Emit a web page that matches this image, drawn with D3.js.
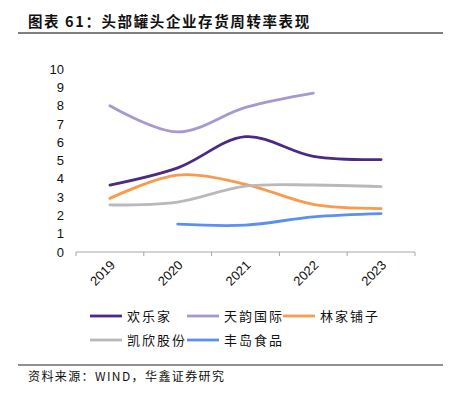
<!DOCTYPE html>
<html>
<head>
<meta charset="utf-8">
<script src="https://cdn.jsdelivr.net/npm/d3@7"></script>
<style>
  body { margin: 0; background: #fff; }
  svg { display: block; }
</style>
</head>
<body>
<svg id="chart" width="459" height="396"></svg>
<script>
// data
const years = ['2019', '2020', '2021', '2022', '2023'];
const yTicks = [0, 1, 2, 3, 4, 5, 6, 7, 8, 9, 10];
const huanlejia = [3.66, 4.6, 6.3, 5.23, 5.05];
const tianyun = [7.99, 6.56, 7.9, 8.68, null];
const linjia = [2.93, 4.2, 3.7, 2.6, 2.37];
const kaixin = [2.57, 2.73, 3.6, 3.66, 3.57];
const fengdao = [null, 1.52, 1.47, 1.92, 2.1];
const seriesNames = ['欢乐家', '天韵国际', '林家铺子', '凯欣股份', '丰岛食品'];
const colorCodes = ['#4a2a85', '#a898d0', '#f99a4c', '#b9b9b9', '#5b8ff5'];

const series = [huanlejia, tianyun, linjia, kaixin, fengdao];

const svg = d3.select('#chart');
const font = '"Noto Sans CJK SC", sans-serif';

// title + rule
svg.append('text')
  .attr('x', 28).attr('y', 27)
  .attr('font-family', font)
  .attr('font-weight', 'bold')
  .attr('font-size', 14.5)
  .attr('letter-spacing', 1.6)
  .attr('fill', '#111')
  .text('图表 61：头部罐头企业存货周转率表现');

svg.append('line')
  .attr('x1', 18).attr('x2', 443)
  .attr('y1', 33).attr('y2', 33)
  .attr('stroke', '#7f7f7f').attr('stroke-width', 2);

const margin = {top: 68, left: 76, right: 415, bottom: 252};

const x = d3.scaleBand()
  .domain(years)
  .range([margin.left, margin.right]);

const y = d3.scaleLinear()
  .domain([0, 10])
  .range([margin.bottom, 69]);

// x axis
const xAxis = svg.append('g')
  .attr('transform', `translate(0, ${margin.bottom})`)
  .call(d3.axisBottom(x).tickSize(0).tickPadding(0));
xAxis.select('.domain').remove();
xAxis.append('line')
  .attr('x1', margin.left).attr('x2', margin.right)
  .attr('stroke', '#a6a6a6').attr('stroke-width', 1);
xAxis.selectAll('.edge')
  .data(d3.range(years.length + 1))
  .enter().append('line')
  .attr('x1', i => margin.left + i * x.step())
  .attr('x2', i => margin.left + i * x.step())
  .attr('y1', 0).attr('y2', 4)
  .attr('stroke', '#a6a6a6');
xAxis.selectAll('.tick text')
  .attr('font-family', '"Liberation Sans", Arial, sans-serif')
  .attr('font-size', 13)
  .attr('fill', '#111')
  .attr('text-anchor', 'end')
  .attr('dy', 0)
  .attr('transform', 'translate(6, 14) rotate(-45)');

// y axis
const yAxis = svg.append('g')
  .attr('transform', `translate(${margin.left}, 0)`)
  .call(d3.axisLeft(y).tickValues(yTicks).tickSize(0).tickPadding(12));
yAxis.select('.domain').remove();
yAxis.selectAll('text')
  .attr('font-family', '"Liberation Sans", Arial, sans-serif')
  .attr('font-size', 13)
  .attr('fill', '#111');

// lines
const line = d3.line()
  .defined(d => d != null)
  .x((d, i) => x(years[i]) + x.bandwidth() / 2)
  .y(d => y(d))
  .curve(d3.curveCatmullRom.alpha(0.5));

series.forEach((s, k) => {
  svg.append('path')
    .datum(s)
    .attr('fill', 'none')
    .attr('stroke', colorCodes[k])
    .attr('stroke-width', 2.8)
    .attr('stroke-linecap', 'round')
    .attr('d', line);
});

// legend
const legendPos = [[90, 316], [187, 316], [283, 316], [90, 340], [187, 340]];
seriesNames.forEach((name, k) => {
  const [lx, ly] = legendPos[k];
  svg.append('line')
    .attr('x1', lx).attr('x2', lx + 32)
    .attr('y1', ly).attr('y2', ly)
    .attr('stroke', colorCodes[k]).attr('stroke-width', 2.8);
  svg.append('text')
    .attr('x', lx + 37).attr('y', ly + 5)
    .attr('font-family', font)
    .attr('font-size', 13)
    .attr('letter-spacing', 2)
    .attr('fill', '#111')
    .text(name);
});

// source
svg.append('line')
  .attr('x1', 18).attr('x2', 443)
  .attr('y1', 365).attr('y2', 365)
  .attr('stroke', '#222').attr('stroke-width', 1);
svg.append('text')
  .attr('x', 28).attr('y', 381)
  .attr('font-family', font)
  .attr('font-size', 12)
  .attr('letter-spacing', 1.4)
  .attr('fill', '#111')
  .text('资料来源：WIND，华鑫证券研究');
</script>
</body>
</html>
